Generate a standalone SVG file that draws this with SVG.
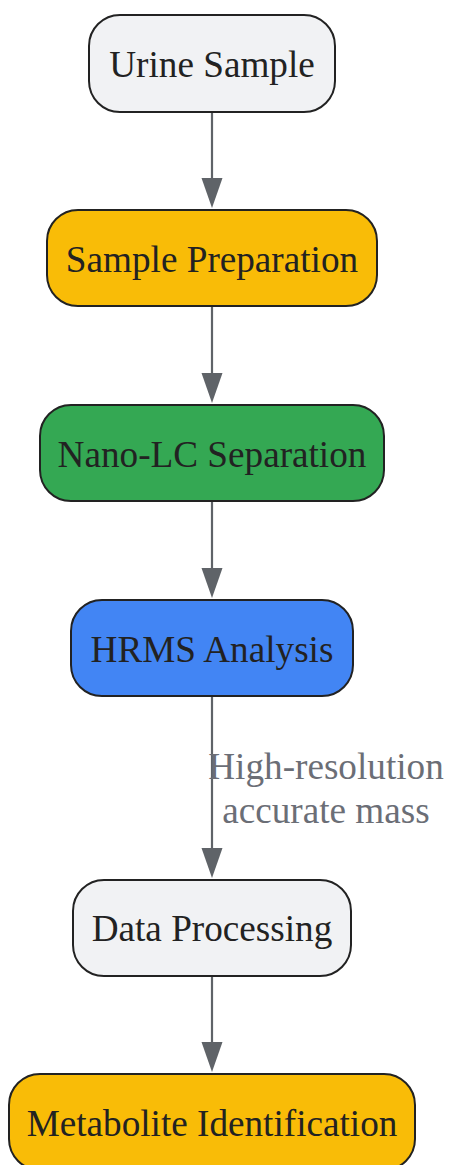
<svg xmlns="http://www.w3.org/2000/svg" width="449" height="1165" viewBox="0 0 449 1165">
<style>
.n rect{stroke:#222;stroke-width:2}
.n text{font-family:"Liberation Serif","Times New Roman",serif;font-size:37.2px;fill:#222;text-anchor:middle}
.e line{stroke:#5f6368;stroke-width:2.2}
.e path{fill:#5f6368}
.lbl{font-family:"Liberation Serif","Times New Roman",serif;font-size:37.2px;fill:#6b6e76;text-anchor:middle}
</style>
<rect width="449" height="1165" fill="#fff"/>
<g id="edges" class="e">
<line x1="212" y1="112" x2="212" y2="178"/>
<path d="M201.5,178 L222.5,178 L212,208 Z"/>
<line x1="212" y1="306" x2="212" y2="373"/>
<path d="M201.5,373 L222.5,373 L212,403 Z"/>
<line x1="212" y1="501" x2="212" y2="568"/>
<path d="M201.5,568 L222.5,568 L212,598 Z"/>
<line x1="212" y1="696" x2="212" y2="848"/>
<path d="M201.5,848 L222.5,848 L212,878 Z"/>
<text class="lbl" x="326" y="779">High-resolution</text>
<text class="lbl" x="326" y="823">accurate mass</text>
<line x1="212" y1="976" x2="212" y2="1042"/>
<path d="M201.5,1042 L222.5,1042 L212,1072 Z"/>
</g>
<g id="urine" class="n"><rect x="89" y="15" width="246" height="97" rx="31" fill="#f1f2f4"/><text x="212" y="77">Urine Sample</text></g>
<g id="prep" class="n"><rect x="47" y="210" width="330" height="96" rx="31" fill="#f9bc07"/><text x="212" y="272">Sample Preparation</text></g>
<g id="nanolc" class="n"><rect x="40" y="405" width="344" height="96" rx="31" fill="#34a853"/><text x="212" y="467">Nano-LC Separation</text></g>
<g id="hrms" class="n"><rect x="71" y="600" width="282" height="96" rx="31" fill="#4285f4"/><text x="212" y="662">HRMS Analysis</text></g>
<g id="data" class="n"><rect x="73" y="880" width="278" height="96" rx="31" fill="#f1f2f4"/><text x="212" y="941">Data Processing</text></g>
<g id="metab" class="n"><rect x="9" y="1074" width="406" height="96" rx="31" fill="#f9bc07"/><text x="212" y="1136">Metabolite Identification</text></g>
</svg>
